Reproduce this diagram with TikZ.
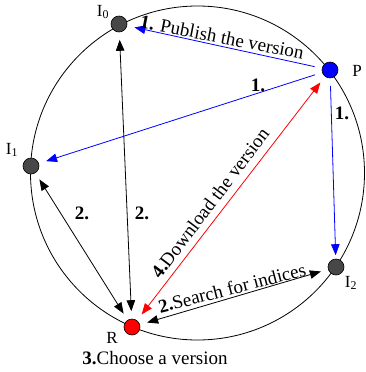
\documentclass[tikz,border=0pt]{standalone}
\usepackage{fontspec}
\setmainfont{Liberation Serif}
\usetikzlibrary{arrows.meta}
\begin{document}
\begin{tikzpicture}[x=1pt,y=-1pt,
  peer/.style={circle,draw=black,line width=0.6pt,minimum size=16pt,inner sep=0pt},
  idx/.style={peer,fill=black!72},
  lab/.style={font=\fontsize{17}{19}\selectfont,inner sep=0pt},
  txt/.style={font=\fontsize{19}{21}\selectfont,inner sep=0pt},
  tip/.tip={Triangle[length=11pt,width=8.5pt]},
  arr/.style={line width=0.8pt,-tip,shorten >=7.5pt,shorten <=7.5pt},
  darr/.style={arr,tip-tip},
]
\useasboundingbox (0,0) rectangle (365,372);
\draw[line width=0.8pt] (197.5,173) circle[radius=167];
% nodes
\node[idx] (I0) at (119,24) {};
\node[idx] (I1) at (31,166) {};
\node[idx] (I2) at (336,267) {};
\node[peer,fill=blue] (P) at (330,70) {};
\node[peer,fill=red] (R) at (132,327) {};
% node labels
\node[lab] (lI0) at (103,12) {I\textsubscript{0}};
\node[lab] (lI1) at (12,150) {I\textsubscript{1}};
\node[lab] (lI2) at (351,283) {I\textsubscript{2}};
\node[lab] (lP) at (357,71) {P};
\node[lab] (lR) at (112,338) {R};
% connectors
\draw[arr,blue] (P) -- (I0);
\draw[arr,blue] (P) -- (I1);
\draw[arr,blue,shorten >=3.5pt] (P) -- (I2);
\draw[darr] (R) -- (I1);
\draw[darr] (R) -- (I0);
\draw[darr] (R) -- (I2);
\draw[darr,red] (R) -- (P);
% texts
\node[txt,rotate=-11.1] (t1) at (222,37) {\textbf{1.} Publish the version};
\node[txt] (t2) at (258,85) {\textbf{1.}};
\node[txt] (t3) at (342,113) {\textbf{1.}};
\node[txt] (t4) at (82,213) {\textbf{2.}};
\node[txt] (t5) at (142,213) {\textbf{2.}};
\node[txt,rotate=52.8] (t6) at (210,203) {\textbf{4.}Download the version};
\node[txt,rotate=14.4] (t7) at (232,288) {\textbf{2.}Search for indices};
\node[txt] (t8) at (155,358) {\textbf{3.}Choose a version};
\end{tikzpicture}
\end{document}
